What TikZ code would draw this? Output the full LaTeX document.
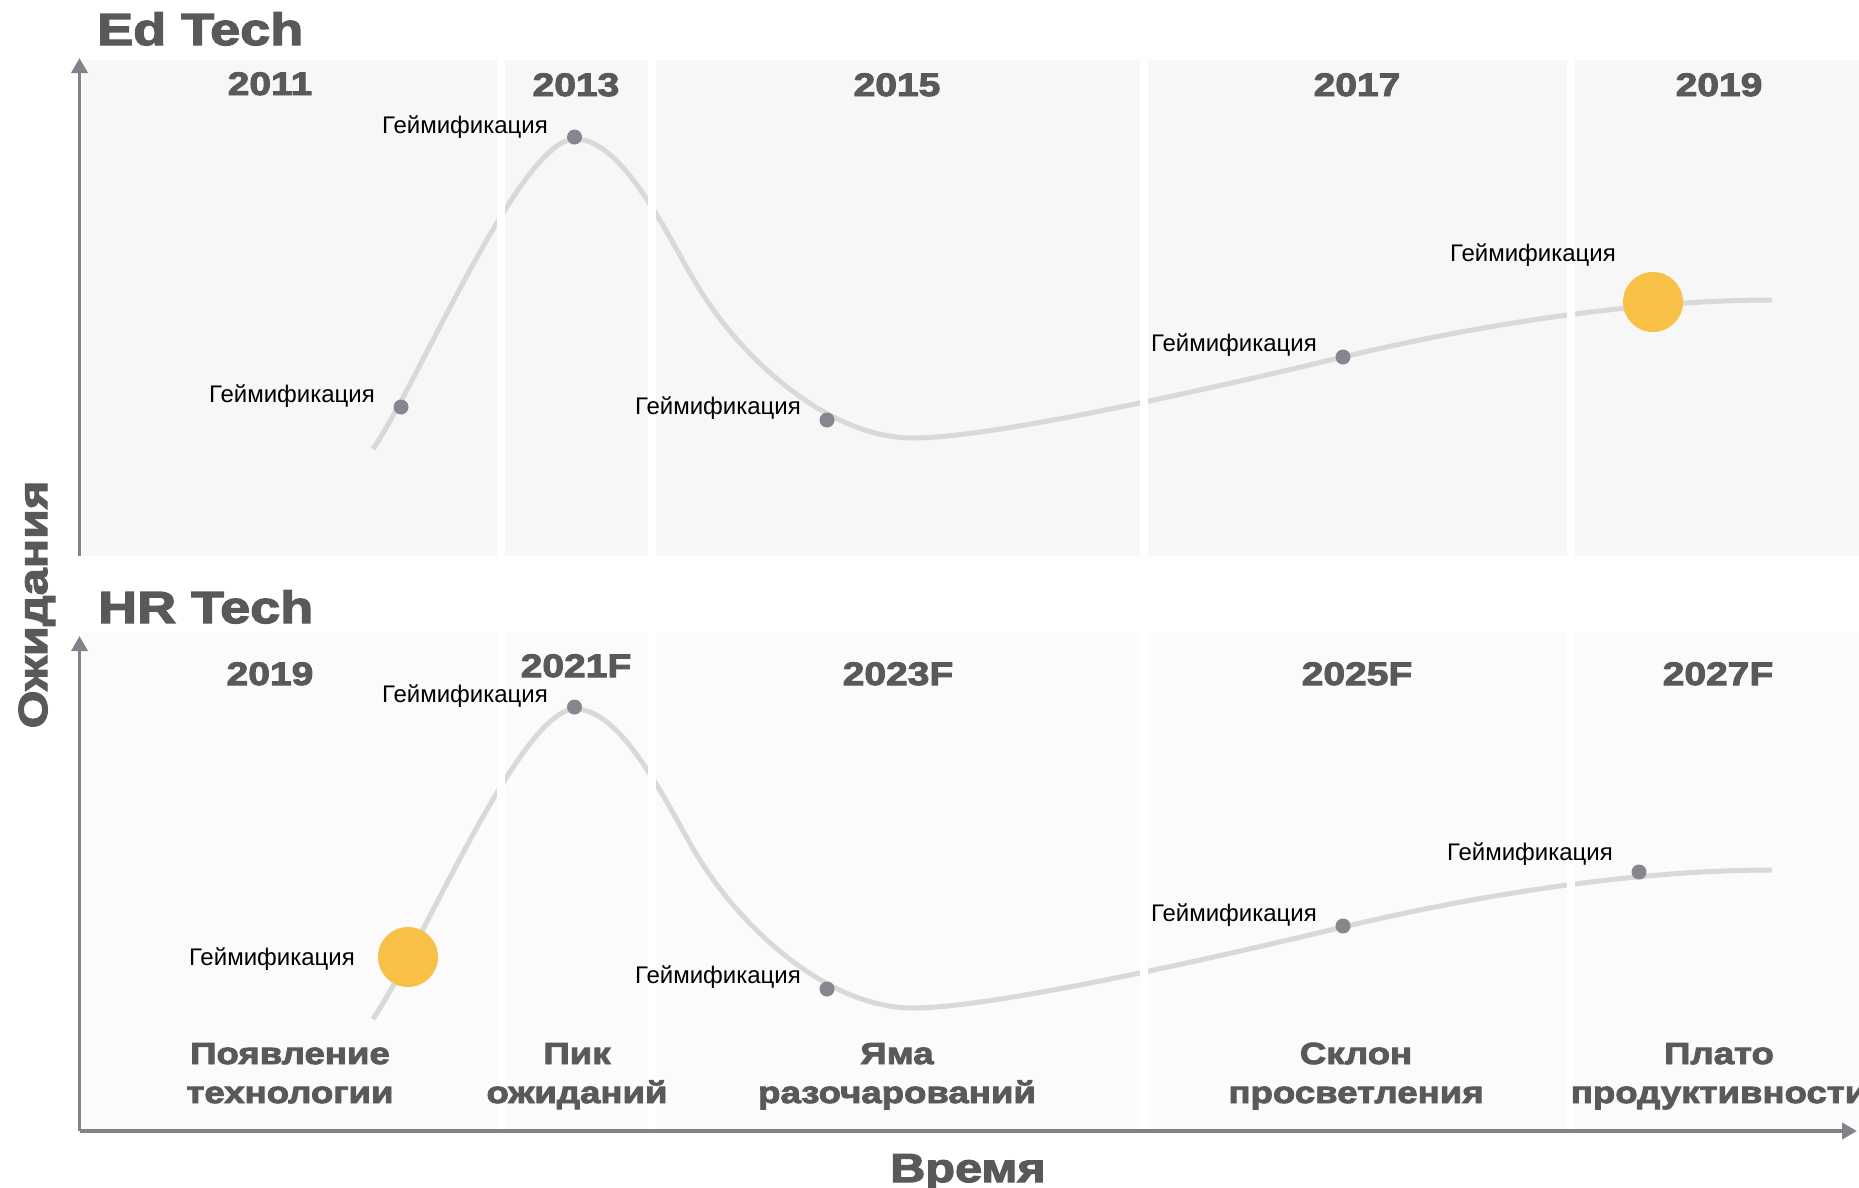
\documentclass[tikz,border=0pt]{standalone}
\usepackage{fontspec}
\setmainfont{Liberation Sans}
\newfontface\heavy{Liberation Sans Bold}[FakeStretch=1.2,FakeBold=3]
\usetikzlibrary{arrows.meta}
\definecolor{txt}{HTML}{595959}
\definecolor{axisgray}{HTML}{82828A}
\definecolor{dotgray}{HTML}{86868E}
\definecolor{curvegray}{HTML}{D9D9D9}
\definecolor{bgtop}{HTML}{F7F7F7}
\definecolor{bgbot}{HTML}{FBFBFB}
\definecolor{hl}{HTML}{F8C146}
\tikzset{
  lbl/.style={font=\fontsize{24}{28}\selectfont, text=black, inner sep=0pt, anchor=base east},
  yearlbl/.style={font=\heavy\fontsize{32.5}{38}\selectfont, text=txt, inner sep=0pt, anchor=base},
  phaselbl/.style={font=\heavy\fontsize{30.5}{39}\selectfont, text=txt, inner sep=0pt, anchor=base},
  titlelbl/.style={font=\heavy\fontsize{45}{54}\selectfont, text=txt, inner sep=0pt, anchor=base west},
  axislbl/.style={font=\heavy\fontsize{40.5}{48}\selectfont, text=txt, inner sep=0pt, anchor=base},
  axisline/.style={draw=axisgray, line width=3.5pt, -{Triangle[length=15pt,width=16pt]}},
  hype/.style={draw=curvegray, line width=5pt},
  gapbar/.style={fill=white, draw=none},
  gdot/.style={circle, fill=dotgray, inner sep=0pt, minimum size=15pt},
  ydot/.style={circle, fill=hl, inner sep=0pt, minimum size=60pt},
}
\newcommand{\twol}[2]{\begin{tabular}[t]{@{}c@{}}#1\\#2\end{tabular}}
\begin{document}
\begin{tikzpicture}[x=1pt,y=-1pt]
\useasboundingbox (0,0) rectangle (1859,1187);
% panels
\fill[bgtop] (82,60) rectangle (1870,556);
\fill[bgbot] (82,632) rectangle (1870,1129);
% curves
\foreach \dy in {0,570}{
  \begin{scope}[shift={(0,\dy)}]
  \draw[hype] (373,449) .. controls (420,380) and (520,139) .. (575,139)
     .. controls (625,139) and (670,242) .. (700,290)
     .. controls (745,362) and (830,438) .. (913,438)
     .. controls (1000,438) and (1250,379.3) .. (1343,357)
     .. controls (1453,330.6) and (1620,300) .. (1772,300);
  \end{scope}
}
% column gaps
\foreach \a/\b in {497/504.5, 648/655.5, 1140/1148, 1567/1574.5}{
  \fill[gapbar] (\a,60) rectangle (\b,556);
  \fill[gapbar] (\a,632) rectangle (\b,1129);
}
% axes
\coordinate (ty0) at (79.5,556);
\coordinate (ty1) at (79.5,58);
\coordinate (org) at (79.5,1131);
\coordinate (by1) at (79.5,636);
\coordinate (bx1) at (1857,1131);
\draw[axisline] (ty0) -- (ty1);
\draw[axisline] (org) -- (by1);
\draw[axisline] (org) -- (bx1);
% titles
\node[titlelbl] (edt) at (97,45) {Ed Tech};
\node[titlelbl] (hrt) at (98,623) {HR Tech};
\node[axislbl, rotate=90] (yl) at (47,604.5) {Ожидания};
\node[axislbl] (xl) at (968,1182) {Время};
% years top
\node[yearlbl] (y1) at (270,95) {2011};
\node[yearlbl] (y2) at (576,96) {2013};
\node[yearlbl] (y3) at (897,96) {2015};
\node[yearlbl] (y4) at (1357,96) {2017};
\node[yearlbl] (y5) at (1719,96) {2019};
% years bottom
\node[yearlbl] (z1) at (270,685) {2019};
\node[yearlbl] (z2) at (576,677) {2021F};
\node[yearlbl] (z3) at (898,685) {2023F};
\node[yearlbl] (z4) at (1357,685) {2025F};
\node[yearlbl] (z5) at (1718,685) {2027F};
% dots top
\node[gdot] (a1) at (401,407) {};
\node[gdot] (a2) at (574.5,137) {};
\node[gdot] (a3) at (827,420) {};
\node[gdot] (a4) at (1343,357) {};
\node[ydot] (a5) at (1653,302) {};
% dots bottom
\node[ydot] (b1) at (408,957) {};
\node[gdot] (b2) at (574.5,707) {};
\node[gdot] (b3) at (827,989) {};
\node[gdot] (b4) at (1343,926) {};
\node[gdot] (b5) at (1639,872) {};
% labels top
\node[lbl] (la1) at (375,402) {Геймификация};
\node[lbl] (la2) at (548,133) {Геймификация};
\node[lbl] (la3) at (801,414) {Геймификация};
\node[lbl] (la4) at (1317,351) {Геймификация};
\node[lbl] (la5) at (1616,261) {Геймификация};
% labels bottom
\node[lbl] (lb1) at (355,965) {Геймификация};
\node[lbl] (lb2) at (548,702) {Геймификация};
\node[lbl] (lb3) at (801,983) {Геймификация};
\node[lbl] (lb4) at (1317,921) {Геймификация};
\node[lbl] (lb5) at (1613,860) {Геймификация};
% phases
\node[phaselbl] (p1) at (290,1064) {\twol{Появление}{технологии}};
\node[phaselbl] (p2) at (577,1064) {\twol{Пик}{ожиданий}};
\node[phaselbl] (p3) at (897,1064) {\twol{Яма}{разочарований}};
\node[phaselbl] (p4) at (1356,1064) {\twol{Склон}{просветления}};
\node[phaselbl] (p5) at (1719,1064) {\twol{Плато}{продуктивности}};
\end{tikzpicture}
\end{document}
